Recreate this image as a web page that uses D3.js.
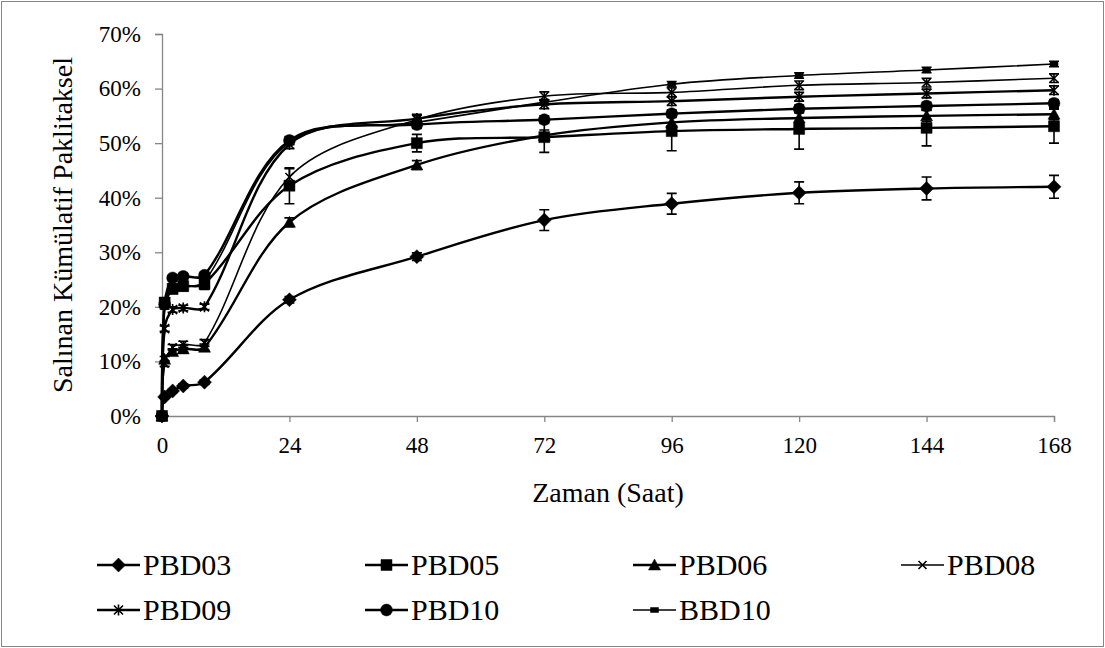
<!DOCTYPE html>
<html>
<head>
<meta charset="utf-8">
<script src="https://cdn.jsdelivr.net/npm/d3@7"></script>
<style>
  html, body { margin: 0; padding: 0; background: #fff; }
  svg { display: block; }
  text { font-family: "Liberation Serif", "Times New Roman", serif; fill: #000; }
</style>
</head>
<body>
<svg id="chart" width="1105" height="648"></svg>
<script>
// Sampling times (hours)
const hours = [0, 0.5, 2, 4, 8, 24, 48, 72, 96, 120, 144, 168];

// Cumulative paclitaxel release (%) and standard deviations
const PBD03 = [0, 3.5, 4.6, 5.5, 6.2, 21.3, 29.2, 35.9, 38.9, 40.9, 41.7, 42.0];
const PBD03_sd = [0, 0.3, 0.3, 0.4, 0.4, 0.6, 0.7, 1.9, 1.9, 2.0, 2.1, 2.1];
const PBD05 = [0, 20.8, 23.3, 23.8, 24.2, 42.2, 50.0, 51.1, 52.2, 52.6, 52.8, 53.1];
const PBD05_sd = [0, 0.8, 0.9, 0.9, 1.0, 3.3, 1.6, 2.8, 3.6, 3.7, 3.3, 3.1];
const PBD06 = [0, 10.4, 11.8, 12.3, 12.6, 35.5, 46.0, 51.4, 53.8, 54.6, 55.0, 55.3];
const PBD06_sd = [0, 0.5, 0.5, 0.6, 0.6, 0.8, 0.8, 1.0, 1.0, 1.0, 1.0, 1.0];
const PBD08 = [0, 9.6, 12.6, 13.1, 13.4, 43.8, 54.3, 58.6, 59.3, 60.6, 61.1, 61.9];
const PBD08_sd = [0, 0.5, 0.5, 0.6, 0.6, 1.5, 0.8, 0.8, 0.8, 0.8, 0.8, 0.8];
const PBD09 = [0, 16.0, 19.5, 19.8, 20.0, 49.8, 54.5, 57.1, 57.7, 58.5, 59.1, 59.7];
const PBD09_sd = [0, 0.5, 0.5, 0.5, 0.5, 0.8, 0.8, 0.8, 0.8, 0.8, 0.8, 0.8];
const PBD10 = [0, 20.5, 25.3, 25.6, 25.8, 50.5, 53.4, 54.3, 55.4, 56.3, 56.8, 57.3];
const PBD10_sd = [0, 0.5, 0.5, 0.5, 0.5, 0.7, 0.7, 0.7, 0.7, 0.7, 0.7, 0.7];
const BBD10 = [0, 20.0, 23.0, 23.6, 24.6, 50.2, 53.8, 57.5, 60.8, 62.4, 63.4, 64.5];
const BBD10_sd = [0, 0.4, 0.4, 0.4, 0.4, 0.5, 0.5, 0.5, 0.5, 0.5, 0.5, 0.5];

const seriesNames = ["PBD03", "PBD05", "PBD06", "PBD08", "PBD09", "PBD10", "BBD10"];
const seriesMarkers = ["diamond", "square", "triangle", "x", "asterisk", "circle", "dash"];

// Axis ticks
const xTicks = [0, 24, 48, 72, 96, 120, 144, 168];
const yTicks = [0, 10, 20, 30, 40, 50, 60, 70];

const xTitle = "Zaman (Saat)";
const yTitle = "Salınan Kümülatif Paklitaksel";

const seriesValues = [PBD03, PBD05, PBD06, PBD08, PBD09, PBD10, BBD10];
const seriesErrors = [PBD03_sd, PBD05_sd, PBD06_sd, PBD08_sd, PBD09_sd, PBD10_sd, BBD10_sd];
const series = seriesNames.map((name, i) => ({
  name,
  marker: seriesMarkers[i],
  thin: name === "PBD08" || name === "BBD10",
  points: hours.map((h, j) => ({ h, v: seriesValues[i][j], e: seriesErrors[i][j] }))
}));

const svg = d3.select("#chart");
const W = 1105, H = 648;
const plot = { left: 162, right: 1054, top: 34, bottom: 416 };
const axisColor = "#868686";

// Outer chart border
svg.append("rect")
  .attr("x", 1.5).attr("y", 1.5)
  .attr("width", W - 3).attr("height", H - 3)
  .attr("fill", "#fff").attr("stroke", axisColor).attr("stroke-width", 1);

const x = d3.scaleLinear().domain([0, 168]).range([plot.left, plot.right]);
const y = d3.scaleLinear().domain([0, 70]).range([plot.bottom, plot.top]);

// Y axis
const yAxis = svg.append("g")
  .attr("transform", `translate(${plot.left},0)`)
  .call(d3.axisLeft(y).tickValues(yTicks).tickSize(7).tickPadding(14)
    .tickFormat(d => d + "%"));
yAxis.select(".domain").attr("stroke", axisColor).attr("stroke-width", 1.3);
yAxis.selectAll(".tick line").attr("stroke", axisColor).attr("stroke-width", 1.3);
yAxis.selectAll(".tick text").attr("font-size", 23).attr("fill", "#000");

// X axis
const xAxis = svg.append("g")
  .attr("transform", `translate(0,${plot.bottom})`)
  .call(d3.axisBottom(x).tickValues(xTicks).tickSize(6).tickPadding(15));
xAxis.select(".domain").attr("stroke", axisColor).attr("stroke-width", 1.3);
xAxis.selectAll(".tick line").attr("stroke", axisColor).attr("stroke-width", 1.3);
xAxis.selectAll(".tick text").attr("font-size", 23).attr("fill", "#000");

// Axis titles
svg.append("text")
  .attr("x", (plot.left + plot.right) / 2).attr("y", 502)
  .attr("text-anchor", "middle").attr("font-size", 28)
  .text(xTitle);
svg.append("text")
  .attr("transform", `translate(72,${(plot.top + plot.bottom) / 2}) rotate(-90)`)
  .attr("text-anchor", "middle").attr("font-size", 28)
  .text(yTitle);

// Smoothed line: cubic Bezier whose tangent handles are weighted by the
// lengths of the neighbouring segments, so short runs do not overshoot.
function SmoothCurve(context) { this._context = context; }
SmoothCurve.prototype = {
  areaStart() { this._line = 0; },
  areaEnd() { this._line = NaN; },
  lineStart() { this._pts = []; },
  point(px, py) { this._pts.push([+px, +py]); },
  lineEnd() {
    const p = this._pts, n = p.length, c = this._context, s = 1 / 3;
    if (!n) return;
    c.moveTo(p[0][0], p[0][1]);
    const dist = (a, b) => Math.hypot(b[0] - a[0], b[1] - a[1]) || 1e-6;
    for (let i = 0; i < n - 1; i++) {
      const p0 = p[i - 1] || p[i], p1 = p[i], p2 = p[i + 1], p3 = p[i + 2] || p[i + 1];
      const d01 = dist(p0, p1), d12 = dist(p1, p2), d23 = dist(p2, p3);
      let c1 = p1, c2 = p2;
      if (i > 0) {
        const k = s * d12 / (d01 + d12);
        c1 = [p1[0] + (p2[0] - p0[0]) * k, p1[1] + (p2[1] - p0[1]) * k];
      }
      if (i < n - 2) {
        const k = s * d12 / (d12 + d23);
        c2 = [p2[0] - (p3[0] - p1[0]) * k, p2[1] - (p3[1] - p1[1]) * k];
      }
      c.bezierCurveTo(c1[0], c1[1], c2[0], c2[1], p2[0], p2[1]);
    }
  }
};
const smoothCurve = context => new SmoothCurve(context);

// Marker shapes
function markerPath(type) {
  switch (type) {
    case "diamond": return "M0,-7L7,0L0,7L-7,0Z";
    case "square": return "M-5.5,-5.5H5.5V5.5H-5.5Z";
    case "triangle": return "M0,-6L6,5L-6,5Z";
    case "circle": return d3.symbol(d3.symbolCircle, 110)();
    case "x": return "M-4,-4L4,4M-4,4L4,-4";
    case "asterisk": return "M-4.5,-4.5L4.5,4.5M-4.5,4.5L4.5,-4.5M0,-5.5V5.5";
    case "dash": return "M-4,-2.5H4V2.5H-4Z";
  }
}
function drawMarker(g, type, cx, cy) {
  const open = type === "x" || type === "asterisk";
  g.append("path")
    .attr("d", markerPath(type))
    .attr("transform", `translate(${cx},${cy})`)
    .attr("fill", open ? "none" : "#000")
    .attr("stroke", "#000")
    .attr("stroke-width", open ? 1.6 : 0.5);
}

const line = d3.line()
  .x(d => x(d.h)).y(d => y(d.v))
  .curve(smoothCurve);

const plotG = svg.append("g");
series.forEach(s => {
  const g = plotG.append("g");
  g.append("path")
    .datum(s.points)
    .attr("d", line)
    .attr("fill", "none")
    .attr("stroke", "#000")
    .attr("stroke-width", s.thin ? 1.6 : 2.4);
  // Error bars
  s.points.forEach(p => {
    if (p.e <= 0) return;
    const cx = x(p.h), y1 = y(p.v - p.e), y2 = y(p.v + p.e);
    g.append("path")
      .attr("d", `M${cx},${y1}V${y2}M${cx - 5},${y1}H${cx + 5}M${cx - 5},${y2}H${cx + 5}`)
      .attr("stroke", "#000").attr("stroke-width", 1.6).attr("fill", "none");
  });
  s.points.forEach(p => drawMarker(g, s.marker, x(p.h), y(p.v)));
});

// Legend
const legendCols = [97, 365, 633, 901];
const legendRows = [565, 610];
series.forEach((s, i) => {
  const lx = legendCols[i % 4], ly = legendRows[Math.floor(i / 4)];
  const g = svg.append("g");
  g.append("line")
    .attr("x1", lx).attr("x2", lx + 43).attr("y1", ly).attr("y2", ly)
    .attr("stroke", "#000").attr("stroke-width", s.thin ? 1.6 : 2.4);
  drawMarker(g, s.marker, lx + 21.5, ly);
  g.append("text")
    .attr("x", lx + 46).attr("y", ly + 10)
    .attr("font-size", 30)
    .text(s.name);
});
</script>
</body>
</html>
